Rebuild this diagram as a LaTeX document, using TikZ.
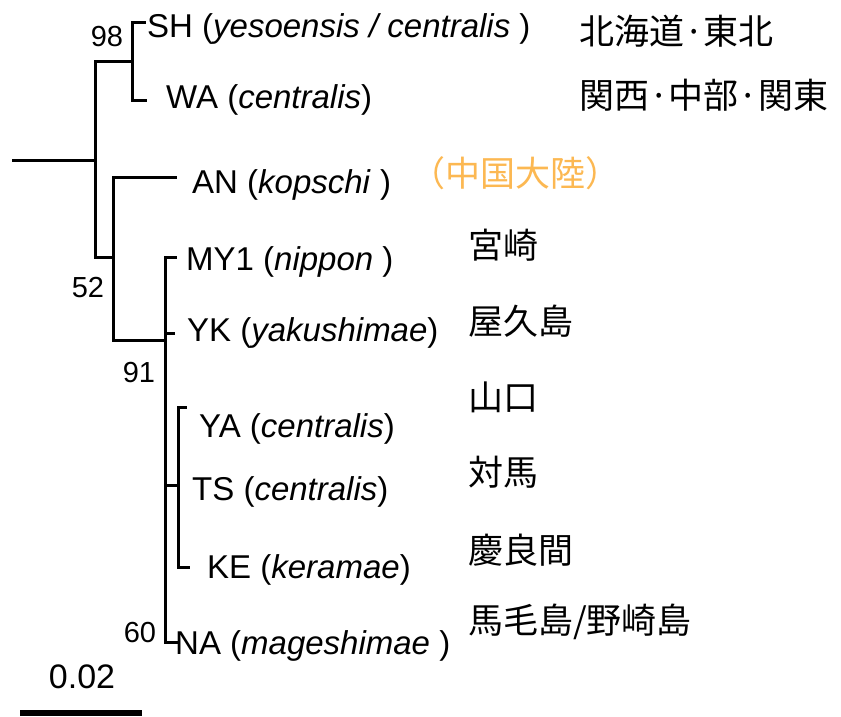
\documentclass[tikz,border=0pt]{standalone}
\usepackage{fontspec}
\setmainfont{Liberation Sans}
\newfontfamily\cjk{Noto Sans CJK JP}
\definecolor{orangelab}{RGB}{252,184,82}
\begin{document}
\begin{tikzpicture}[x=1pt,y=-1pt,
  branch/.style={line width=3pt,line join=miter,line cap=rect},
  taxon/.style={anchor=base west,inner sep=0pt,font=\fontsize{33}{38}\selectfont},
  boot/.style={inner sep=0pt,font=\fontsize{29}{33}\selectfont},
  region/.style={anchor=west,inner sep=0pt,font=\cjk\fontsize{35}{40}\selectfont}]
\useasboundingbox (0,0) rectangle (841,717);
% internal nodes
\coordinate (r) at (13,160);
\coordinate (a) at (95,160);
\coordinate (b) at (132,62);
\coordinate (c) at (113,257);
\coordinate (d) at (165,340);
\coordinate (e) at (178,485);
% tips
\coordinate (tSH) at (144,23);
\coordinate (tWA) at (145,100);
\coordinate (tAN) at (175,177);
\coordinate (tMY) at (175,257);
\coordinate (tYK) at (173,333);
\coordinate (tYA) at (185,407);
\coordinate (tKE) at (188,567);
\coordinate (tNA) at (178,642);
% branches
\draw[branch] (r) -- (a);
\draw[branch] (a) |- (b);
\draw[branch] (a) |- (c);
\draw[branch] (b) |- (tSH);
\draw[branch] (b) |- (tWA);
\draw[branch] (c) |- (tAN);
\draw[branch] (c) |- (d);
\draw[branch] (d) |- (tMY);
\draw[branch] (d) |- (tYK);
\draw[branch] (d) |- (e);
\draw[branch] (d) |- (tNA);
\draw[branch] (e) |- (tYA);
\draw[branch] (e) |- (tKE);
% taxa
\node[taxon] (SH) at (147,38) {SH (\textit{yesoensis / centralis} )};
\node[taxon] (WA) at (166,109) {WA (\textit{centralis})};
\node[taxon] (AN) at (192,193) {AN (\textit{kopschi} )};
\node[taxon] (MY) at (186,270) {MY1 (\textit{nippon} )};
\node[taxon] (YK) at (187,341) {YK (\textit{yakushimae})};
\node[taxon] (YA) at (199,437) {YA (\textit{centralis})};
\node[taxon] (TS) at (192,500) {TS (\textit{centralis})};
\node[taxon] (KE) at (207,578) {KE (\textit{keramae})};
\node[taxon] (NA) at (175,654) {NA (\textit{mageshimae} )};
% bootstrap values
\node[boot] (b98) at (107,37) {98};
\node[boot] (b52) at (88,288) {52};
\node[boot] (b91) at (139,373) {91};
\node[boot] (b60) at (140,633) {60};
% regions
\node[region] (rSH) at (579,31) {北海道·東北};
\node[region] (rWA) at (579,95) {関西·中部·関東};
\node[region,text=orangelab] (rAN) at (410,173) {（中国大陸）};
\node[region] (rMY) at (468,245) {宮崎};
\node[region] (rYK) at (468,321) {屋久島};
\node[region] (rYA) at (468,397) {山口};
\node[region] (rTS) at (468,472) {対馬};
\node[region] (rKE) at (468,550) {慶良間};
\node[region] (rNA) at (468,622) {馬毛島/野崎島};
% scale bar
\node[inner sep=0pt,font=\fontsize{34}{38}\selectfont] (sl) at (82,677) {0.02};
\coordinate (s1) at (20,713);
\coordinate (s2) at (142,713);
\draw[line width=6pt] (s1) -- (s2);
\end{tikzpicture}
\end{document}
